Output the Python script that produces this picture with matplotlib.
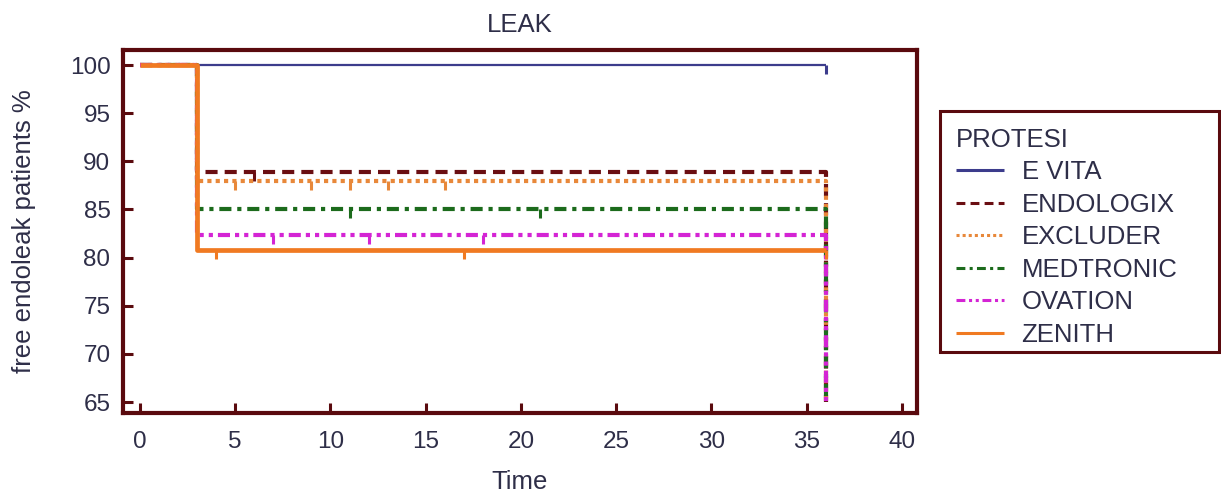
import matplotlib
matplotlib.use("Agg")
import matplotlib.pyplot as plt
import matplotlib.patches as mpatches
from matplotlib.path import Path

# Kaplan-Meier style curves (time in months, survival in %)
groups = ["E VITA", "ENDOLOGIX", "EXCLUDER", "MEDTRONIC", "OVATION", "ZENITH"]

e_vita_time = [0, 36]
e_vita_surv = [100, 100]
e_vita_cens = [36]

endologix_time = [0, 3, 36]
endologix_surv = [100, 88.9, 0]
endologix_cens = [6]

excluder_time = [0, 3, 36]
excluder_surv = [100, 88.0, 0]
excluder_cens = [5, 9, 11, 13, 16]

medtronic_time = [0, 3, 36]
medtronic_surv = [100, 85.0, 0]
medtronic_cens = [11, 21]

ovation_time = [0, 3, 36]
ovation_surv = [100, 82.3, 0]
ovation_cens = [7, 12, 18]

zenith_time = [0, 3, 36]
zenith_surv = [100, 80.8, 80.8]
zenith_cens = [4, 17, 36]

times = [e_vita_time, endologix_time, excluder_time, medtronic_time, ovation_time, zenith_time]
survs = [e_vita_surv, endologix_surv, excluder_surv, medtronic_surv, ovation_surv, zenith_surv]
cens = [e_vita_cens, endologix_cens, excluder_cens, medtronic_cens, ovation_cens, zenith_cens]

colors = ["#3c3c8c", "#6a0e12", "#e8883a", "#1c6b1c", "#d424d4", "#f07a22"]
widths = [1.6, 3.0, 3.0, 3.0, 3.0, 3.4]
styles = ["-",
          (0, (2.9, 1.7)),
          (0, (1.0, 1.0)),
          (0, (2.9, 1.4, 1.0, 1.4)),
          (0, (2.9, 1.2, 1.0, 1.2, 1.0, 1.2)),
          "-"]

frame_col = "#5a0a0e"
text_col = "#2e2e48"
W, H = 1221, 494

plt.rcParams['font.family'] = ['Liberation Sans', 'DejaVu Sans']

fig = plt.figure(figsize=(W / 100, H / 100), dpi=100)
ax = fig.add_axes([123 / W, 1 - 413 / H, (917 - 123) / W, (413 - 50) / H])

# censor mark: short vertical stroke hanging below the curve
tick_marker = Path([(0, 0), (0, -1)])

clip = mpatches.Rectangle((-5, 65), 50, 40, transform=ax.transData)

for name, t, s, c, col, lw, ls in zip(groups, times, survs, cens, colors, widths, styles):
    line, = ax.step(t, s, where='post', color=col, lw=lw, linestyle=ls,
                    label=name, solid_capstyle='butt', dash_capstyle='butt')
    line.set_clip_path(clip)
    # level of the curve at each censored time
    lev = []
    for ct in c:
        v = s[0]
        for tt, ss in zip(t, s):
            if tt < ct:
                v = ss
        lev.append(v)
    ax.plot(c, lev, linestyle='none', marker=tick_marker, markersize=13,
            markeredgewidth=2.2, color=col)

ax.set_xlim(-0.89, 40.79)
ax.set_ylim(63.86, 101.56)
ax.set_xticks([0, 5, 10, 15, 20, 25, 30, 35, 40])
ax.set_yticks([65, 70, 75, 80, 85, 90, 95, 100])

for sp in ax.spines.values():
    sp.set_color(frame_col)
    sp.set_linewidth(3)

ax.tick_params(direction='in', length=7, width=2.2, color=frame_col,
               labelsize=17.5, labelcolor=text_col)
ax.tick_params(axis='x', pad=13)
ax.tick_params(axis='y', pad=9)

ax.set_title("LEAK", fontsize=18.5, color=text_col, pad=13)
ax.set_xlabel("Time", fontsize=18.5, color=text_col, labelpad=12)
ax.set_ylabel("free endoleak patients %", fontsize=18.5, color=text_col, labelpad=24)

leg = ax.legend(title="PROTESI", loc='upper left',
                bbox_to_anchor=(943 / W, 1 - 115 / H),
                bbox_transform=fig.transFigure, fontsize=18.5, title_fontsize=18.5,
                handlelength=1.86, handletextpad=0.7, labelspacing=0.33,
                borderpad=0, frameon=False, alignment='left',
                labelcolor=text_col)
leg.get_title().set_color(text_col)
for h in leg.get_lines():
    h.set_linewidth(2.2)

# legend frame, wider than the text as in the original
box = mpatches.Rectangle((940 / W, 1 - 352 / H), (1219 - 940) / W, (352 - 111) / H,
                         transform=fig.transFigure, fill=False,
                         edgecolor=frame_col, linewidth=2.2)
fig.patches.append(box)

fig.savefig("out.png", dpi=100)
